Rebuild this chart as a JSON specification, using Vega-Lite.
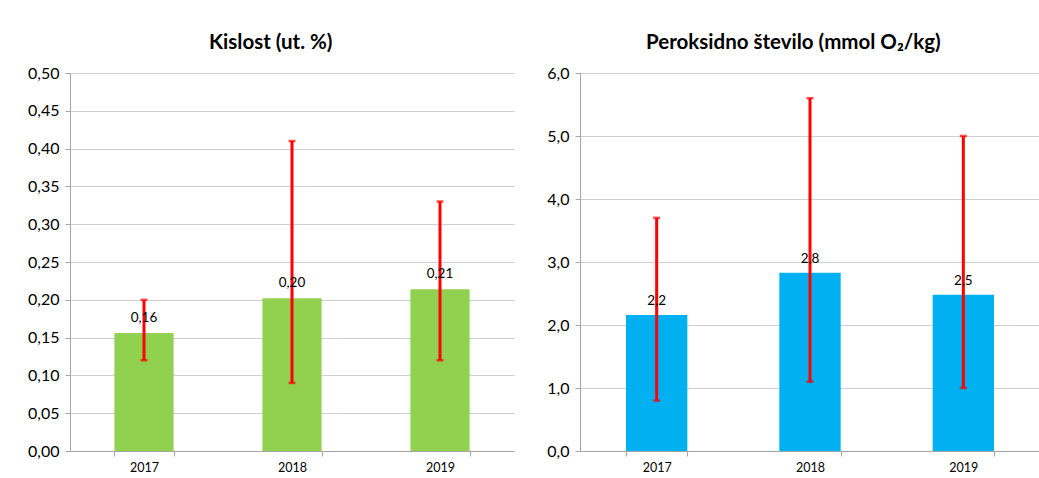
{
  "$schema": "https://vega.github.io/schema/vega-lite/v6.json",
  "padding": {"left": 27, "top": 32, "right": 0, "bottom": 0},
  "background": "white",
  "datasets": {
    "kis": [
      {"year": "2017", "value": 0.156, "lo": 0.12, "hi": 0.20},
      {"year": "2018", "value": 0.202, "lo": 0.09, "hi": 0.41},
      {"year": "2019", "value": 0.214, "lo": 0.12, "hi": 0.33}
    ],
    "per": [
      {"year": "2017", "value": 2.16, "lo": 0.8, "hi": 3.7},
      {"year": "2018", "value": 2.83, "lo": 1.1, "hi": 5.6},
      {"year": "2019", "value": 2.48, "lo": 1.0, "hi": 5.0}
    ]
  },
  "spacing": 66,
  "bounds": "flush",
  "hconcat": [
    {
      "width": 444,
      "height": 378,
      "title": {"text": "Kislost (ut. %)", "fontSize": 20.5, "fontWeight": "bold", "frame": "bounds", "offset": 12, "color": "#000"},
      "data": {"name": "kis"},
      "encoding": {
        "x": {"field": "year", "type": "nominal", "title": null,
          "scale": {"paddingInner": 0.6, "paddingOuter": 0.3},
          "axis": {"labelAngle": 0, "tickBand": "extent", "grid": false, "labelFontSize": 12.5, "tickSize": 5, "labelPadding": 5}}
      },
      "layer": [
        {"mark": {"type": "bar", "color": "#92D050"},
         "encoding": {"y": {"field": "value", "type": "quantitative", "title": null,
           "scale": {"domain": [0, 0.5]},
           "axis": {"values": [0, 0.05, 0.1, 0.15, 0.2, 0.25, 0.3, 0.35, 0.4, 0.45, 0.5], "format": ".2f", "labelFontSize": 16, "labelOverlap": false, "tickSize": 5, "labelPadding": 6, "grid": true}}}},
        {"mark": {"type": "rule", "color": "#FF0000", "strokeWidth": 3},
         "encoding": {"y": {"field": "lo", "type": "quantitative", "title": null,
           "axis": {"values": [0, 0.05, 0.1, 0.15, 0.2, 0.25, 0.3, 0.35, 0.4, 0.45, 0.5], "format": ".2f", "labelFontSize": 16, "labelOverlap": false, "tickSize": 5, "labelPadding": 6, "grid": true}}, "y2": {"field": "hi"}}},
        {"mark": {"type": "tick", "color": "#FF0000", "thickness": 2.5, "size": 7},
         "encoding": {"y": {"field": "lo", "type": "quantitative", "title": null,
           "axis": {"values": [0, 0.05, 0.1, 0.15, 0.2, 0.25, 0.3, 0.35, 0.4, 0.45, 0.5], "format": ".2f", "labelFontSize": 16, "labelOverlap": false, "tickSize": 5, "labelPadding": 6, "grid": true}}}},
        {"mark": {"type": "tick", "color": "#FF0000", "thickness": 2.5, "size": 7},
         "encoding": {"y": {"field": "hi", "type": "quantitative", "title": null,
           "axis": {"values": [0, 0.05, 0.1, 0.15, 0.2, 0.25, 0.3, 0.35, 0.4, 0.45, 0.5], "format": ".2f", "labelFontSize": 16, "labelOverlap": false, "tickSize": 5, "labelPadding": 6, "grid": true}}}},
        {"mark": {"type": "text", "dy": -15, "fontSize": 13.5, "color": "#000"},
         "encoding": {"y": {"field": "value", "type": "quantitative", "title": null,
           "axis": {"values": [0, 0.05, 0.1, 0.15, 0.2, 0.25, 0.3, 0.35, 0.4, 0.45, 0.5], "format": ".2f", "labelFontSize": 16, "labelOverlap": false, "tickSize": 5, "labelPadding": 6, "grid": true}},
           "text": {"field": "value", "type": "quantitative", "format": ".2f"}}}
      ]
    },
    {
      "width": 460,
      "height": 378,
      "title": {"text": "Peroksidno število (mmol O₂/kg)", "fontSize": 20.5, "fontWeight": "bold", "frame": "bounds", "offset": 12, "color": "#000"},
      "data": {"name": "per"},
      "encoding": {
        "x": {"field": "year", "type": "nominal", "title": null,
          "scale": {"paddingInner": 0.6, "paddingOuter": 0.3},
          "axis": {"labelAngle": 0, "tickBand": "extent", "grid": false, "labelFontSize": 12.5, "tickSize": 5, "labelPadding": 5}}
      },
      "layer": [
        {"mark": {"type": "bar", "color": "#00B0F0"},
         "encoding": {"y": {"field": "value", "type": "quantitative", "title": null,
           "scale": {"domain": [0, 6]},
           "axis": {"values": [0, 1, 2, 3, 4, 5, 6], "format": ".1f", "labelFontSize": 16, "labelOverlap": false, "tickSize": 5, "labelPadding": 6, "grid": true}}}},
        {"mark": {"type": "rule", "color": "#FF0000", "strokeWidth": 3},
         "encoding": {"y": {"field": "lo", "type": "quantitative", "title": null,
           "axis": {"values": [0, 1, 2, 3, 4, 5, 6], "format": ".1f", "labelFontSize": 16, "labelOverlap": false, "tickSize": 5, "labelPadding": 6, "grid": true}}, "y2": {"field": "hi"}}},
        {"mark": {"type": "tick", "color": "#FF0000", "thickness": 2.5, "size": 7},
         "encoding": {"y": {"field": "lo", "type": "quantitative", "title": null,
           "axis": {"values": [0, 1, 2, 3, 4, 5, 6], "format": ".1f", "labelFontSize": 16, "labelOverlap": false, "tickSize": 5, "labelPadding": 6, "grid": true}}}},
        {"mark": {"type": "tick", "color": "#FF0000", "thickness": 2.5, "size": 7},
         "encoding": {"y": {"field": "hi", "type": "quantitative", "title": null,
           "axis": {"values": [0, 1, 2, 3, 4, 5, 6], "format": ".1f", "labelFontSize": 16, "labelOverlap": false, "tickSize": 5, "labelPadding": 6, "grid": true}}}},
        {"mark": {"type": "text", "dy": -14, "fontSize": 13.5, "color": "#000"},
         "encoding": {"y": {"field": "value", "type": "quantitative", "title": null,
           "axis": {"values": [0, 1, 2, 3, 4, 5, 6], "format": ".1f", "labelFontSize": 16, "labelOverlap": false, "tickSize": 5, "labelPadding": 6, "grid": true}},
           "text": {"field": "value", "type": "quantitative", "format": ".1f"}}}
      ]
    }
  ],
  "config": {
    "locale": {"number": {"decimal": ",", "thousands": ".", "grouping": [3], "currency": ["", " €"]}},
    "font": "Lato",
    "view": {"stroke": null},
    "axis": {"labelFont": "Lato", "labelColor": "#000", "domainColor": "#a6a6a6", "tickColor": "#a6a6a6", "gridColor": "#cfcfcf"},
    "title": {"font": "Lato", "anchor": "middle"}
  }
}
